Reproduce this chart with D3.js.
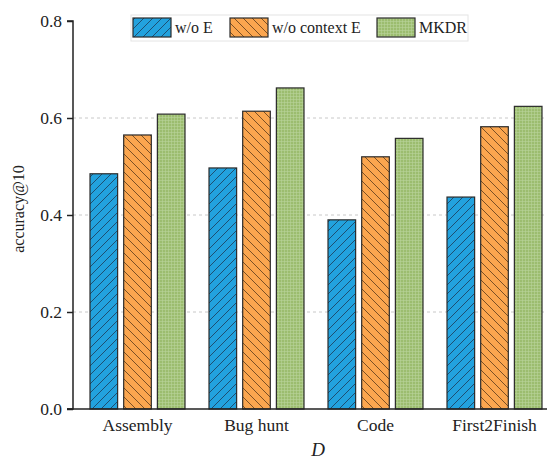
<!DOCTYPE html>
<html>
<head>
<script src="https://d3js.org/d3.v7.min.js"></script>
<style>
  body { margin: 0; background: #fff; }
  text { font-family: "Liberation Serif", "Times New Roman", serif; fill: #222; }
</style>
</head>
<body>
<svg id="chart" width="547" height="459"></svg>
<script>
// data
const categories = ["Assembly", "Bug hunt", "Code", "First2Finish"];
const seriesNames = ["w/o E", "w/o context E", "MKDR"];
const woE = [0.485, 0.497, 0.390, 0.437];
const woContextE = [0.565, 0.614, 0.520, 0.582];
const mkdr = [0.608, 0.662, 0.558, 0.624];
const yTicks = [0.0, 0.2, 0.4, 0.6, 0.8];

const svg = d3.select("#chart");
const colors = ["#22a2de", "#fba64f", "#9cbd6f"];

// patterns
const defs = svg.append("defs");
const p1 = defs.append("pattern").attr("id", "hatchA").attr("patternUnits", "userSpaceOnUse")
  .attr("width", 9).attr("height", 9);
p1.append("rect").attr("width", 9).attr("height", 9).attr("fill", colors[0]);
p1.append("path").attr("d", "M-2,2 L2,-2 M0,9 L9,0 M7,11 L11,7").attr("stroke", "#1d3a55").attr("stroke-width", 0.8);

const p2 = defs.append("pattern").attr("id", "hatchB").attr("patternUnits", "userSpaceOnUse")
  .attr("width", 9).attr("height", 9);
p2.append("rect").attr("width", 9).attr("height", 9).attr("fill", colors[1]);
p2.append("path").attr("d", "M-2,7 L2,11 M0,0 L9,9 M7,-2 L11,2").attr("stroke", "#5a3a1a").attr("stroke-width", 0.8);

const p3 = defs.append("pattern").attr("id", "hatchC").attr("patternUnits", "userSpaceOnUse")
  .attr("width", 3).attr("height", 3);
p3.append("rect").attr("width", 3).attr("height", 3).attr("fill", colors[2]);
p3.append("path").attr("d", "M0,0.5 L3,0.5 M0.5,0 L0.5,3").attr("stroke", "#b8d49a").attr("stroke-width", 0.6);

const fills = ["url(#hatchA)", "url(#hatchB)", "url(#hatchC)"];

// scales
const y = d3.scaleLinear().domain([0, 0.8]).range([409, 21]);
const x0 = d3.scaleBand().domain(categories).range([78, 554]).paddingInner(0).paddingOuter(0);
const x1 = d3.scaleBand().domain(seriesNames).range([12, 107]).paddingInner(0.18);

// grid
svg.append("g").selectAll("line").data([0.2, 0.4, 0.6]).join("line")
  .attr("x1", 73).attr("x2", 547)
  .attr("y1", d => y(d)).attr("y2", d => y(d))
  .attr("stroke", "#c8c8c8").attr("stroke-dasharray", "3,3").attr("stroke-width", 1);

// bars
const rows = categories.map((c, i) => ({ cat: c, vals: [woE[i], woContextE[i], mkdr[i]] }));
const g = svg.append("g").selectAll("g").data(rows).join("g")
  .attr("transform", d => `translate(${x0(d.cat)},0)`);
g.selectAll("rect").data(d => d.vals.map((v, k) => ({ v, k }))).join("rect")
  .attr("x", d => x1(seriesNames[d.k]))
  .attr("y", d => y(d.v))
  .attr("width", x1.bandwidth())
  .attr("height", d => 409 - y(d.v))
  .attr("fill", d => fills[d.k])
  .attr("stroke", "#2b2b2b").attr("stroke-width", 1.2);

// y axis
const yAxis = svg.append("g").attr("transform", "translate(73,0)")
  .call(d3.axisLeft(y).tickValues(yTicks).tickFormat(d3.format(".1f")).tickSize(6).tickPadding(5));
yAxis.select(".domain").attr("stroke", "#222").attr("stroke-width", 1.5).attr("d", "M-6,21H0V409H-6");
yAxis.selectAll(".tick line").attr("stroke", "#222").attr("stroke-width", 1.5);
yAxis.selectAll("text").attr("font-size", 17.5).attr("fill", "#222");

// x axis
const xAxis = svg.append("g").attr("transform", "translate(0,409)")
  .call(d3.axisBottom(x0).tickSize(0).tickPadding(10));
xAxis.select(".domain").attr("stroke", "#222").attr("stroke-width", 1.5).attr("d", "M67,0H547");
xAxis.selectAll("text").attr("font-size", 17.5).attr("fill", "#222");

// axis titles
svg.append("text").attr("transform", "translate(24,209) rotate(-90)")
  .attr("text-anchor", "middle").attr("font-size", 16).text("accuracy@10");
svg.append("text").attr("x", 318).attr("y", 456).attr("text-anchor", "middle")
  .attr("font-size", 19).attr("font-style", "italic").text("D");

// legend
const lg = svg.append("g");
lg.append("rect").attr("x", 131).attr("y", 15).attr("width", 337).attr("height", 26)
  .attr("fill", "#fff").attr("stroke", "#e4e4e4");
const legX = [133, 230, 377];
seriesNames.forEach((s, k) => {
  lg.append("rect").attr("x", legX[k]).attr("y", 18).attr("width", 38).attr("height", 19)
    .attr("fill", fills[k]).attr("stroke", "#2b2b2b").attr("stroke-width", 1.2);
  lg.append("text").attr("x", legX[k] + 42).attr("y", 33).attr("font-size", 16).text(s);
});
</script>
</body>
</html>
